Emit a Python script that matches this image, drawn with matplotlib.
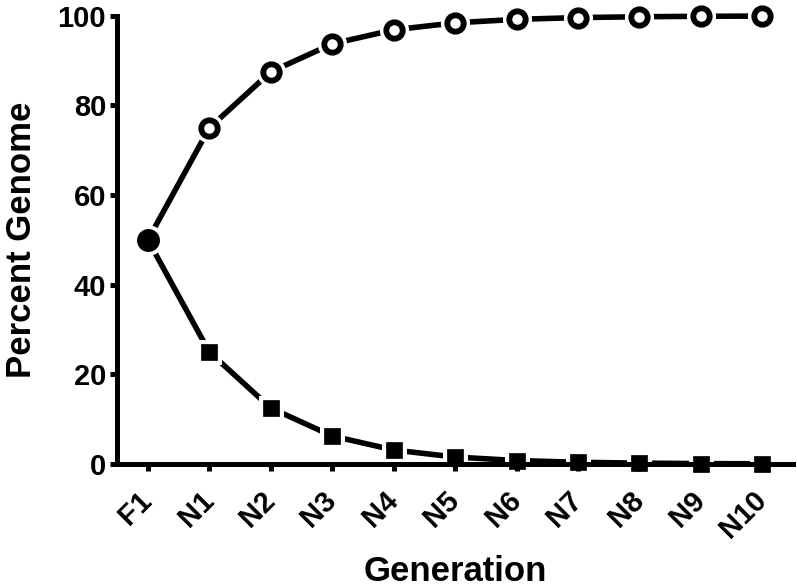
import matplotlib
matplotlib.use("Agg")
import matplotlib.pyplot as plt

# generations and percent genome per line
generations = ["F1", "N1", "N2", "N3", "N4", "N5", "N6", "N7", "N8", "N9", "N10"]
recurrent = [50, 75, 87.5, 93.75, 96.88, 98.44, 99.22, 99.61, 99.8, 99.9, 99.95]
donor = [50, 25, 12.5, 6.25, 3.13, 1.56, 0.78, 0.39, 0.2, 0.1, 0.05]

plt.rcParams['font.family'] = ['Liberation Sans', 'DejaVu Sans']
plt.rcParams['font.weight'] = 'bold'

fig = plt.figure(figsize=(7.97, 5.87), dpi=100)
ax = fig.add_axes([0.147, 0.2095, 0.848, 0.7635])

x = list(range(len(generations)))
lw = 4.0

# lines
ax.plot(x, recurrent, color='black', lw=lw, zorder=3, clip_on=False, solid_capstyle='butt')
ax.plot(x, donor, color='black', lw=lw, zorder=3, clip_on=False, solid_capstyle='butt')

# white halos so the lines stop short of the markers
ax.plot(x[1:], recurrent[1:], ls='none', marker='o', ms=21, mfc='white', mec='white',
        mew=0, zorder=3.2, clip_on=False)
ax.plot(x[1:], donor[1:], ls='none', marker='s', ms=18, mfc='white', mec='white',
        mew=0, zorder=3.2, clip_on=False)
ax.plot(x[:1], donor[:1], ls='none', marker='o', ms=22, mfc='white', mec='white',
        mew=0, zorder=3.2, clip_on=False)

# markers
ax.plot(x[1:], recurrent[1:], ls='none', marker='o', ms=11.8, mfc='white', mec='black',
        mew=4.2, zorder=4, clip_on=False)
ax.plot(x[1:], donor[1:], ls='none', marker='s', ms=12, mfc='black', mec='black',
        mew=0.5, zorder=4, clip_on=False)
ax.plot(x[:1], donor[:1], ls='none', marker='o', ms=16.5, mfc='black', mec='black',
        mew=0, zorder=4, clip_on=False)

ax.set_xlim(-0.5, 10.5)
ax.set_ylim(0, 100)
ax.set_yticks([0, 20, 40, 60, 80, 100])
ax.set_xticks(x)
ax.set_xticklabels(generations, rotation=45, ha='right', va='center', rotation_mode='anchor')

for s in ['top', 'right']:
    ax.spines[s].set_visible(False)
for s in ['left', 'bottom']:
    ax.spines[s].set_linewidth(3.6)
    ax.spines[s].set_zorder(3.5)
ax.xaxis.set_zorder(3.5)
ax.yaxis.set_zorder(3.5)

ax.tick_params(axis='both', length=5, width=3.6, labelsize=21)
ax.tick_params(axis='y', pad=3)
ax.tick_params(axis='x', pad=18)
ax.set_ylabel('Percent Genome', fontsize=25, fontweight='bold', labelpad=14)
ax.set_xlabel('Generation', fontsize=25, fontweight='bold', labelpad=8)

fig.savefig('out.png', dpi=100)
